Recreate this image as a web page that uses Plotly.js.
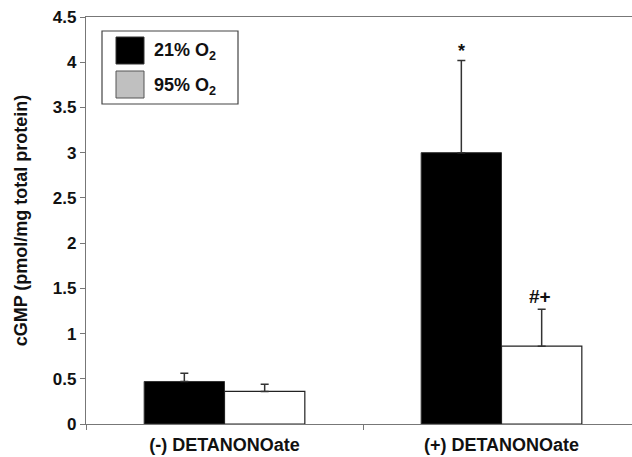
<!DOCTYPE html>
<html>
<head>
<meta charset="utf-8">
<script src="https://cdn.plot.ly/plotly-3.0.1.min.js"></script>
<style>html,body{margin:0;padding:0;background:#fff;overflow:hidden;}#chart{width:640px;height:457px;}</style>
</head>
<body>
<div id="chart"></div>
<script>
// Data
const categories = ['(-) DETANONOate', '(+) DETANONOate'];
const seriesNames = ['21% O<sub>2</sub>', '95% O<sub>2</sub>'];
const values21 = [0.47, 3.0];
const errors21 = [0.09, 1.02];
const values95 = [0.36, 0.86];
const errors95 = [0.08, 0.41];
const sigLabels21 = ['', '*'];
const sigLabels95 = ['', '#+'];
const yTickVals = [0, 0.5, 1, 1.5, 2, 2.5, 3, 3.5, 4, 4.5];

const FONT = 'Liberation Sans, Arial, sans-serif';
const W = 640, H = 457;
const M = {l: 86, r: 0, t: 17, b: 33};
const bargap = 0.42;
const px = x => (x - M.l) / (W - M.l - M.r);
const py = y => (H - M.b - y) / (H - M.t - M.b);

const errStyle = {type: 'data', symmetric: false, arrayminus: [0, 0], color: '#333', thickness: 1.5, width: 4};

const traces = [
  {type: 'bar', name: seriesNames[0], x: categories, y: values21,
   marker: {color: '#000', line: {color: '#333', width: 1}},
   error_y: Object.assign({}, errStyle, {array: errors21}), showlegend: false},
  {type: 'bar', name: seriesNames[1], x: categories, y: values95,
   marker: {color: '#fff', line: {color: '#222', width: 1.2}},
   error_y: Object.assign({}, errStyle, {array: errors95}), showlegend: false}
];

const off = (1 - bargap) / 4;
const annotations = [];
categories.forEach((c, i) => {
  if (sigLabels21[i]) annotations.push({x: i - off, y: values21[i] + errors21[i], xref: 'x', yref: 'y',
    text: '<b>' + sigLabels21[i] + '</b>', showarrow: false, yanchor: 'bottom', yshift: -3,
    font: {family: FONT, size: 18, color: '#111'}});
  if (sigLabels95[i]) annotations.push({x: i + off, y: values95[i] + errors95[i], xref: 'x', yref: 'y',
    text: '<b>' + sigLabels95[i] + '</b>', showarrow: false, yanchor: 'bottom', yshift: 0, xshift: -2,
    font: {family: FONT, size: 19, color: '#111'}});
});
// legend text
annotations.push({x: px(152), y: py(52), xref: 'paper', yref: 'paper', text: '<b>' + seriesNames[0] + '</b>',
  showarrow: false, xanchor: 'left', yanchor: 'middle', font: {family: FONT, size: 18, color: '#111'}});
annotations.push({x: px(152), y: py(86), xref: 'paper', yref: 'paper', text: '<b>' + seriesNames[1] + '</b>',
  showarrow: false, xanchor: 'left', yanchor: 'middle', font: {family: FONT, size: 18, color: '#111'}});

const shapes = [
  {type: 'rect', xref: 'paper', yref: 'paper', x0: px(102), x1: px(238), y0: py(31), y1: py(104),
   line: {color: '#444', width: 1.2}, fillcolor: '#fff'},
  {type: 'rect', xref: 'paper', yref: 'paper', x0: px(116), x1: px(144), y0: py(37), y1: py(64),
   line: {color: '#333', width: 1}, fillcolor: '#000'},
  {type: 'rect', xref: 'paper', yref: 'paper', x0: px(116), x1: px(144), y0: py(71), y1: py(98),
   line: {color: '#555', width: 1}, fillcolor: '#c0c0c0'}
];

const layout = {
  width: W, height: H, margin: M,
  paper_bgcolor: '#fff', plot_bgcolor: '#fff',
  barmode: 'group', bargap: bargap, bargroupgap: 0,
  font: {family: FONT, color: '#111'},
  xaxis: {type: 'category', showline: true, linecolor: '#777', linewidth: 1.2, mirror: true,
    ticks: 'outside', tickson: 'boundaries', ticklen: 5, tickcolor: '#777', showgrid: false,
    ticklabelstandoff: 4,
    tickfont: {family: FONT, size: 18, color: '#111', weight: 'bold'}, zeroline: false},
  yaxis: {range: [0, 4.5], tickvals: yTickVals, showline: true, linecolor: '#777', linewidth: 1.2,
    ticks: 'outside', ticklen: 5, tickcolor: '#777', showgrid: false, zeroline: false,
    tickfont: {family: FONT, size: 17, color: '#111', weight: 'bold'},
    title: {text: 'cGMP (pmol/mg total protein)', font: {family: FONT, size: 18, color: '#111', weight: 'bold'}, standoff: 20}},
  annotations: annotations,
  shapes: shapes,
  showlegend: false
};

Plotly.newPlot('chart', traces, layout, {staticPlot: true});
</script>
</body>
</html>
